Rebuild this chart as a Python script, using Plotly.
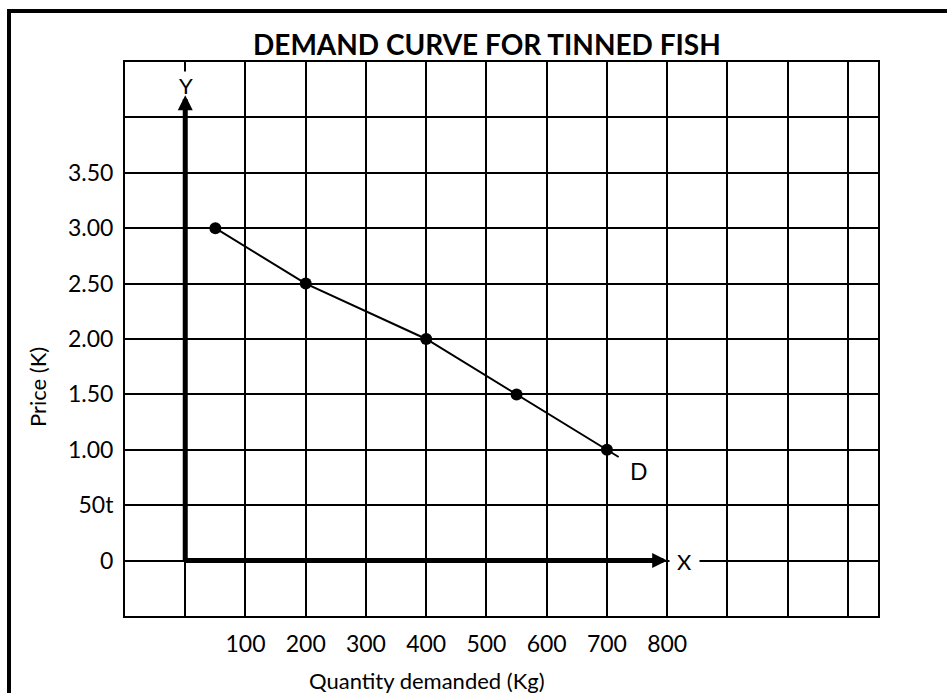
import plotly.graph_objects as go

# ---- data ----
quantity = [50, 200, 400, 550, 700]
price = [3.00, 2.50, 2.00, 1.50, 1.00]

x_tick_vals = [-100, 0, 100, 200, 300, 400, 500, 600, 700, 800, 900, 1000, 1100]
x_tick_text = ["", "", "100", "200", "300", "400", "500", "600", "700", "800", "", "", ""]
y_tick_vals = [-0.5, 0, 0.5, 1.0, 1.5, 2.0, 2.5, 3.0, 3.5, 4.0, 4.5]
y_tick_text = ["", "0", "50t", "1.00", "1.50", "2.00", "2.50", "3.00", "3.50", "", ""]

title_text = "DEMAND CURVE FOR TINNED FISH"
x_title = "Quantity demanded (Kg)"
y_title = "Price (K)"
curve_label = "D"
x_axis_label = "X"
y_axis_label = "Y"

# ---- layout geometry (pixels) ----
W, H = 947, 693
L, R, T, B = 125, 878, 62, 616


def px_x(px):
    return (px - L) / (R - L)


def px_y(py):
    return (B - py) / (B - T)


FONT = "Lato, 'Open Sans', sans-serif"
TICK_SIZE = 23

# line through the points, with small tails beyond the end points
line_x = [quantity[0] - (quantity[1] - quantity[0]) * 0.05] + quantity + \
         [quantity[-1] + (quantity[-1] - quantity[-2]) * 0.13]
line_y = [price[0] - (price[1] - price[0]) * 0.05] + price + \
         [price[-1] + (price[-1] - price[-2]) * 0.13]

fig = go.Figure()
fig.add_trace(go.Scatter(x=line_x, y=line_y, mode="lines",
                         line=dict(color="black", width=2),
                         hoverinfo="skip", showlegend=False))
fig.add_trace(go.Scatter(x=quantity, y=price, mode="markers",
                         marker=dict(color="black", size=12),
                         showlegend=False))

fig.update_layout(
    width=W, height=H,
    margin=dict(l=L, r=W - R, t=T, b=H - B, pad=0),
    paper_bgcolor="white", plot_bgcolor="white",
    font=dict(family=FONT, size=22, color="black"),
    xaxis=dict(range=[-100, 1150], tickvals=x_tick_vals, ticktext=x_tick_text,
               showgrid=True, gridcolor="black", gridwidth=2, zeroline=False,
               showline=True, linecolor="black", linewidth=2, mirror=True,
               ticks="outside", ticklen=6, tickcolor="rgba(0,0,0,0)",
               tickfont=dict(family=FONT, size=TICK_SIZE, color="black"), fixedrange=True),
    yaxis=dict(range=[-0.5, 4.5], tickvals=y_tick_vals, ticktext=y_tick_text,
               showgrid=True, gridcolor="black", gridwidth=2, zeroline=False,
               showline=True, linecolor="black", linewidth=2, mirror=True,
               ticks="outside", ticklen=5, tickcolor="rgba(0,0,0,0)",
               tickfont=dict(family=FONT, size=TICK_SIZE, color="black"), fixedrange=True),
    showlegend=False,
)

# outer frame
fig.add_shape(type="rect", xref="paper", yref="paper",
              x0=px_x(9), x1=px_x(990), y0=px_y(740), y1=px_y(11),
              line=dict(color="black", width=4), fillcolor="rgba(0,0,0,0)", layer="above")

annotations = [
    dict(text="<b>" + title_text + "</b>", xref="paper", yref="paper",
         x=px_x(487), y=px_y(44), xanchor="center", yanchor="middle",
         showarrow=False, font=dict(family=FONT, size=28, color="black")),
    dict(text=x_title, xref="paper", yref="paper", x=px_x(427), y=px_y(680),
         xanchor="center", yanchor="middle", showarrow=False,
         font=dict(family=FONT, size=22, color="black")),
    dict(text=y_title, xref="paper", yref="paper", x=px_x(37), y=px_y(387),
         xanchor="center", yanchor="middle", showarrow=False, textangle=-90,
         font=dict(family=FONT, size=22, color="black")),
    dict(text=y_axis_label, xref="paper", yref="paper", x=px_x(186), y=px_y(85),
         xanchor="center", yanchor="middle", showarrow=False, bgcolor="white",
         width=22, height=24, font=dict(family=FONT, size=22, color="black")),
    dict(text=x_axis_label, xref="paper", yref="y", x=px_x(684), y=0,
         xanchor="center", yanchor="middle", showarrow=False, bgcolor="white",
         width=27, height=26, font=dict(family=FONT, size=22, color="black")),
    dict(text=curve_label, xref="paper", yref="paper", x=px_x(639), y=px_y(471),
         xanchor="center", yanchor="middle", showarrow=False,
         font=dict(family=FONT, size=23, color="black")),
    # axes arrows
    dict(text="", x=800, y=0, ax=-4, ay=0, xref="x", yref="y", axref="x", ayref="y",
         showarrow=True, arrowhead=2, arrowsize=0.6, arrowwidth=5,
         arrowcolor="black", standoff=0),
    dict(text="", x=0, y=4.2, ax=0, ay=-0.025, xref="x", yref="y", axref="x", ayref="y",
         showarrow=True, arrowhead=2, arrowsize=0.6, arrowwidth=5,
         arrowcolor="black", standoff=0),
]
fig.update_layout(annotations=annotations)

fig.write_html(
    "out.html",
    config={"displayModeBar": False},
    post_script="document.body.style.margin='0';document.body.style.overflow='hidden';",
)
